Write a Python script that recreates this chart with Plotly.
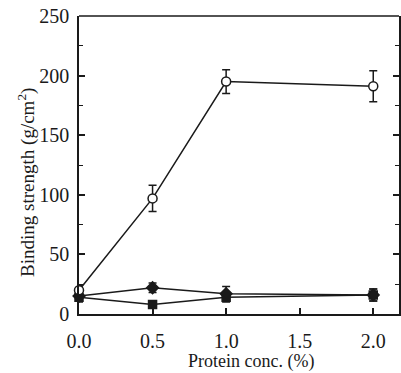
import plotly.graph_objects as go

conc = [0.0, 0.5, 1.0, 2.0]
open_circle = [20, 97, 195, 191]
open_circle_err = [4, 11, 10, 13]
filled_diamond = [15, 22, 17, 16]
filled_diamond_err = [4, 4, 6, 5]
filled_square = [14, 8, 14, 16]
filled_square_err = [4, 3, 4, 5]

x_ticks = [0.0, 0.5, 1.0, 1.5, 2.0]
x_tick_labels = ["0.0", "0.5", "1.0", "1.5", "2.0"]
y_ticks = [0, 50, 100, 150, 200, 250]

INK = "#1a1a1a"
FONT = "Liberation Serif"

fig = go.Figure()


def add_series(y, err, symbol, size, fill):
    fig.add_trace(go.Scatter(
        x=conc, y=y, mode="lines+markers",
        line=dict(color=INK, width=1.5),
        marker=dict(symbol=symbol, size=size, color=fill,
                    line=dict(color=INK, width=1.5)),
        error_y=dict(type="data", array=err, visible=True,
                     color=INK, thickness=1.5, width=4),
        showlegend=False, cliponaxis=False,
    ))


add_series(filled_square, filled_square_err, "square", 8, INK)
add_series(filled_diamond, filled_diamond_err, "diamond", 9, INK)
add_series(open_circle, open_circle_err, "circle", 9, "white")

fig.update_layout(
    width=401, height=373,
    margin=dict(l=79, r=0, t=16, b=59),
    paper_bgcolor="white", plot_bgcolor="white",
    font=dict(family=FONT, color=INK, size=17),
    xaxis=dict(
        range=[0, 2.175], tickvals=x_ticks, ticktext=x_tick_labels,
        ticks="inside", ticklen=6, tickwidth=1.5, tickcolor=INK,
        showline=True, linecolor=INK, linewidth=1.5, mirror=False,
        showgrid=False, zeroline=False,
        tickfont=dict(size=20, family=FONT, color=INK),
        ticklabelstandoff=8,
    ),
    yaxis=dict(
        range=[0, 250], tickvals=y_ticks,
        ticks="inside", ticklen=6, tickwidth=1.5, tickcolor=INK,
        minor=dict(dtick=25, ticks="inside", ticklen=4, tickwidth=1.2,
                   tickcolor=INK, showgrid=False),
        showline=True, linecolor=INK, linewidth=1.5, mirror="ticks",
        showgrid=False, zeroline=False,
        tickfont=dict(size=20, family=FONT, color=INK),
        ticklabelstandoff=4,
    ),
    shapes=[dict(type="line", xref="paper", yref="paper",
                 x0=0, x1=1, y0=1, y1=1,
                 line=dict(color=INK, width=1.5))],
    annotations=[
        dict(text="Protein conc. (%)", xref="paper", yref="paper",
             x=(252 - 79) / 322, y=(373 - 59 - 361) / 297,
             showarrow=False, font=dict(size=18, family=FONT, color=INK),
             xanchor="center", yanchor="middle"),
        dict(text="Binding strength (g/cm<sup>2</sup>)", xref="paper", yref="paper",
             x=(26 - 79) / 322, y=(314 - 183) / 297,
             textangle=-90, showarrow=False,
             font=dict(size=19, family=FONT, color=INK),
             xanchor="center", yanchor="middle"),
    ],
)

fig.write_html("out.html")
